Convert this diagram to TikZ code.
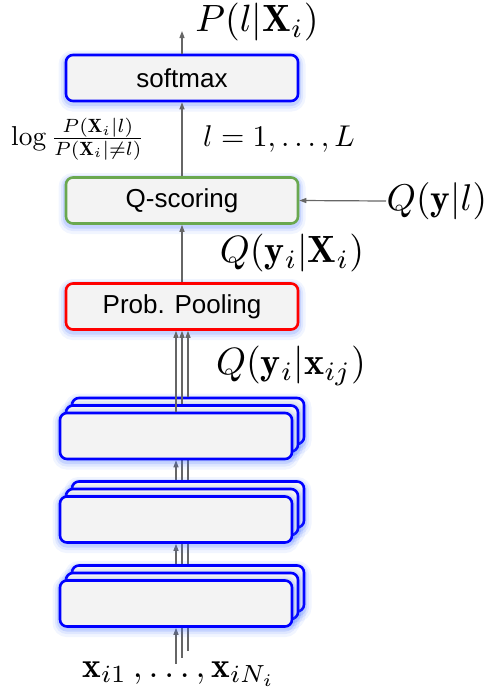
\documentclass[tikz,border=0pt]{standalone}
\usepackage{fontspec}
\setsansfont{Liberation Sans}
\usetikzlibrary{arrows.meta,backgrounds}
\definecolor{boxfill}{HTML}{F3F3F3}
\definecolor{bblue}{HTML}{0000FF}
\definecolor{bred}{HTML}{FF0000}
\definecolor{bgreen}{HTML}{6AA84F}
\definecolor{glowc}{HTML}{3D6DFF}
\definecolor{arr}{HTML}{666666}
\begin{document}
\begin{tikzpicture}[x=1pt,y=-1pt,
  box/.style={draw=#1, line width=2.6pt, fill=boxfill, rounded corners=7pt,
    minimum width=232pt, minimum height=46pt, inner sep=0pt,
    font=\fontsize{26}{30}\selectfont\sffamily,
    preaction={draw=glowc, draw opacity=0.07, line width=15pt, transform canvas={yshift=-3pt}},
    preaction={draw=glowc, draw opacity=0.10, line width=10pt, transform canvas={yshift=-2.5pt}},
    preaction={draw=glowc, draw opacity=0.16, line width=6pt, transform canvas={yshift=-2pt}}},
  ar/.style={draw=arr, line width=1.2pt, -{Triangle[length=7pt,width=5pt]}},
  lab/.style={inner sep=0pt, font=\fontsize{10}{12}\selectfont, scale=3.8},
]
\useasboundingbox (0,0) rectangle (493,697);

% main boxes
\node[box=bblue] (sm) at (182,78) {softmax};
\node[box=bgreen] (qs) at (182,200.5) {Q-scoring};
\node[box=bred] (pp) at (182,306.5) {Prob. Pooling};

% stacked boxes
\foreach \s/\y in {1/436,2/519.5,3/603.5}{
  \foreach \k in {2,1,0}{
    \node[box=bblue] (s\s l\k) at ({176+6*\k},{\y-7.5*\k}) {};
  }
}

% input coordinates
\foreach \k in {0,1,2}{
  \coordinate (in\k) at ({176+6*\k},{664-6.5*\k});
}
\coordinate (top) at (182,31);

% labels
\node[lab] (pl) at (257,22) {$P(l|\mathbf{X}_i)$};
\node[lab, scale=0.72] (lg) at (78,139)
  {$\log\frac{P(\mathbf{X}_i|l)}{P(\mathbf{X}_i|{\neq}l)}$};
\node[lab, scale=0.79] (ll) at (279,139) {$l=1,\dots,L$};
\node[lab, anchor=west, scale=0.98] (qyl) at (386,201) {$Q(\mathbf{y}|l)$};
\node[lab] (qyx) at (292,253) {$Q(\mathbf{y}_i|\mathbf{X}_i)$};
\node[lab] (qyxj) at (291,366) {$Q(\mathbf{y}_i|\mathbf{x}_{ij})$};
\node[lab, scale=0.93] (xin) at (179,674)
  {$\mathbf{x}_{i1}\,,\ldots,\mathbf{x}_{iN_i}$};

% connectors
\draw[ar] (sm.north) -- (top);
\draw[ar] (qs.north) -- (sm.south);
\draw[ar] (pp.north) -- (qs.south);
\draw[ar] (qyl.west) -- (qs.east);
\foreach \k in {0,1,2}{
  \draw[ar] (s1l\k.north) -- (s1l\k.north |- pp.south);
}
\begin{scope}[on background layer]
\foreach \k in {0,1,2}{
  \draw[ar] (s2l\k.north) -- (s1l\k.south);
  \draw[ar] (s3l\k.north) -- (s2l\k.south);
  \draw[ar] (in\k) -- (s3l\k.south);
}
\end{scope}
\end{tikzpicture}
\end{document}
